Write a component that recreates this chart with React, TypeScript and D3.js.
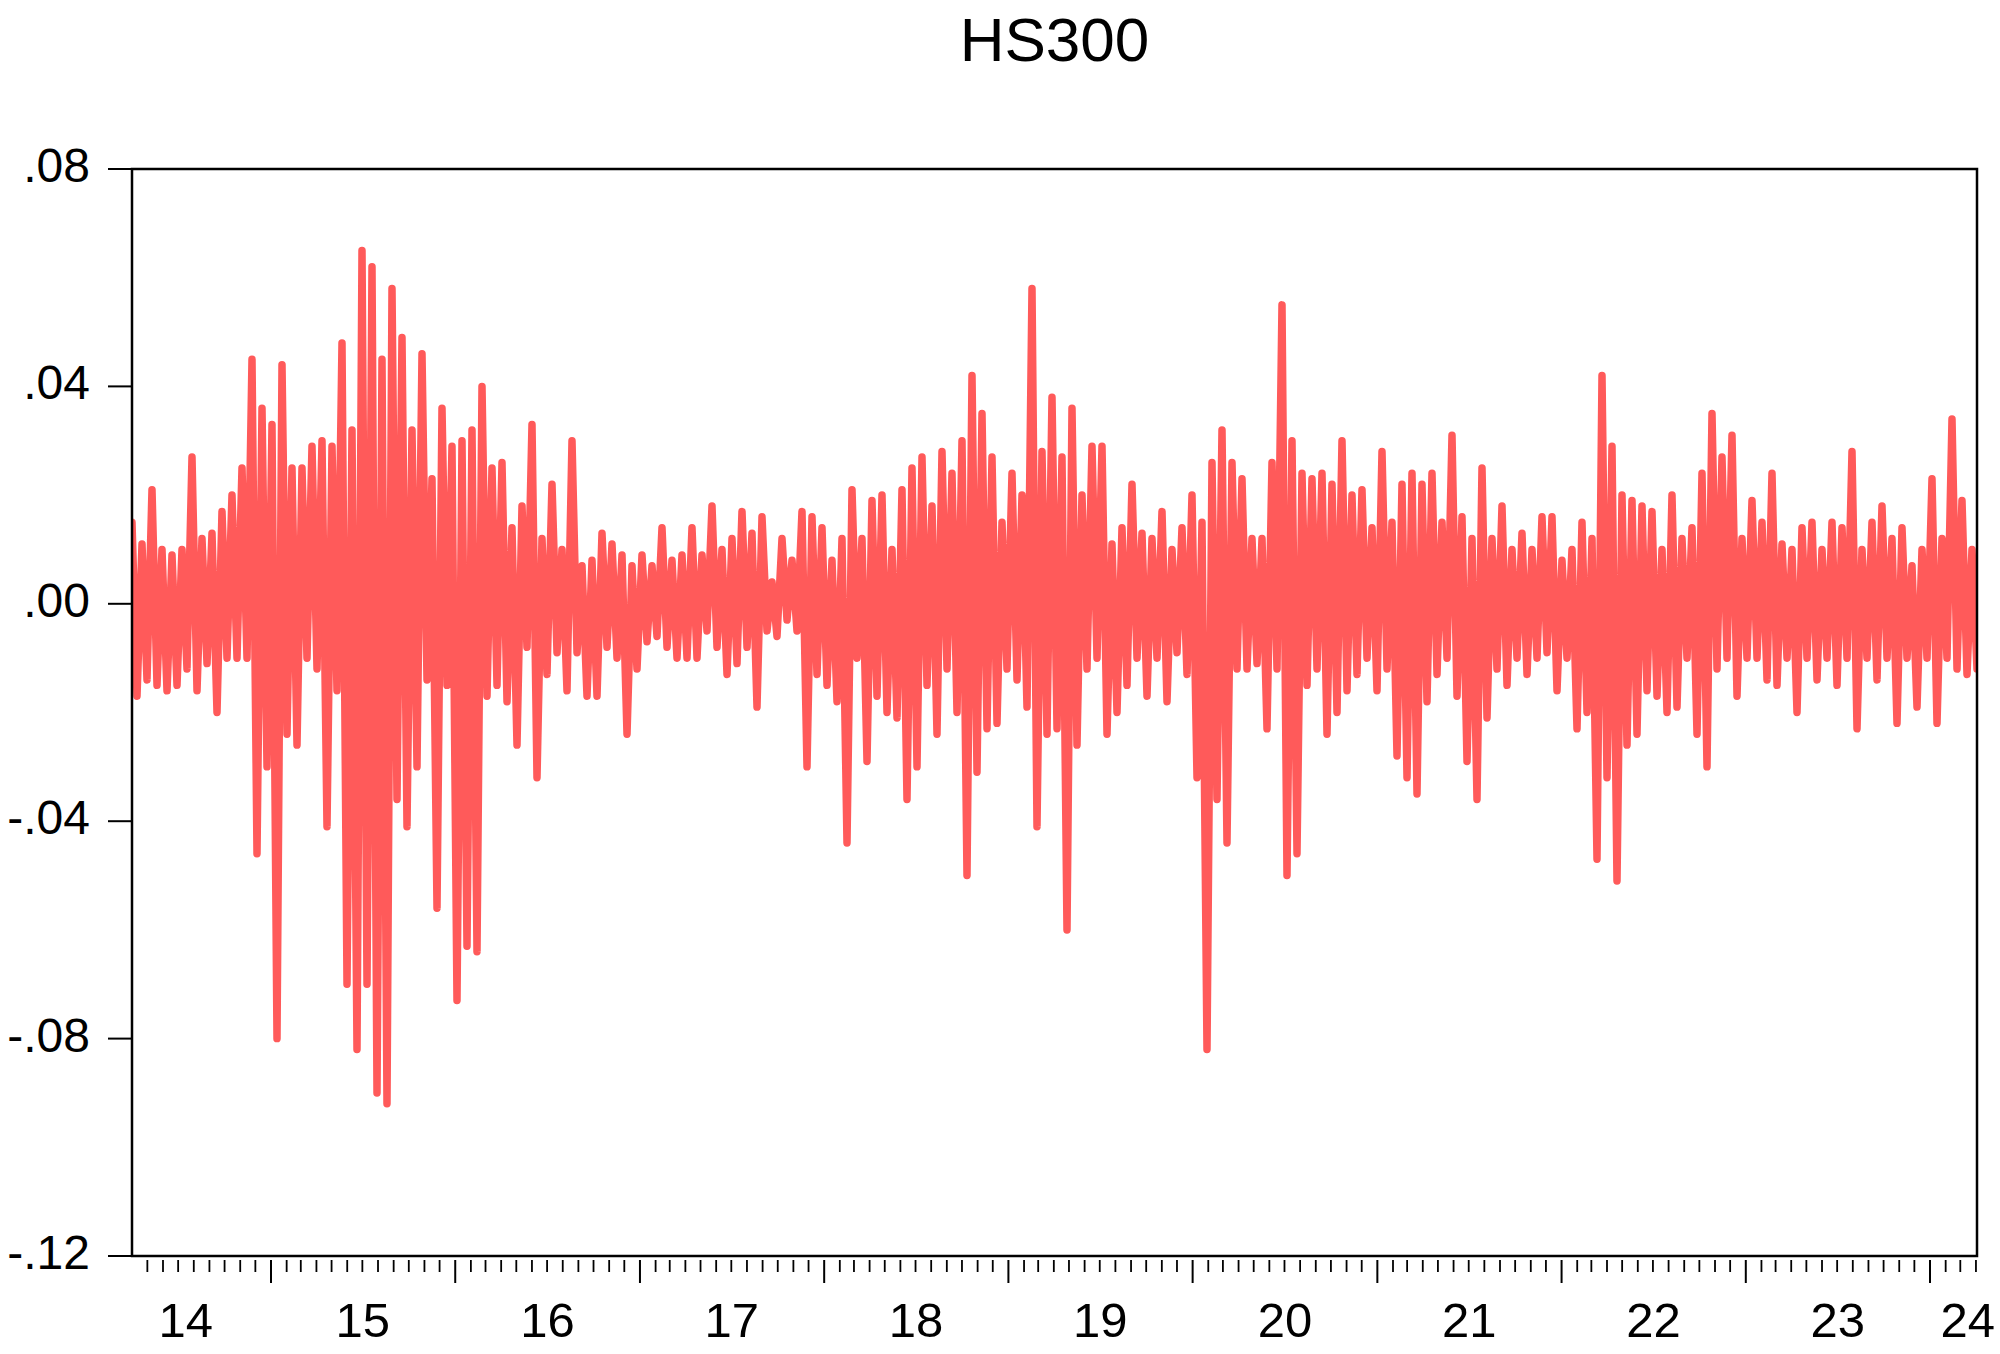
import React from 'react';
import * as d3 from 'd3';

// ---------------- data ----------------
const TITLE = 'HS300';

// y axis ticks
const Y_TICKS = [0.08, 0.04, 0.0, -0.04, -0.08, -0.12];
const Y_TICK_LABELS = ['.08', '.04', '.00', '-.04', '-.08', '-.12'];

// x axis: observation window and year labels
const START_DATE = '2014-03-31T14:00';
const END_DATE = '2024-04-03T02:00';
const YEAR_LABELS = ['14', '15', '16', '17', '18', '19', '20', '21', '22', '23', '24'];
const YEAR_LABEL_DATES = [
  '2014-07-16', '2015-07-02', '2016-07-02', '2017-07-02', '2018-07-02',
  '2019-07-02', '2020-07-02', '2021-07-02', '2022-07-02', '2023-07-02', '2024-03-16',
];

// daily log returns of HS300, sampled along the picture, in per-mille (x 0.001)
const RET_2014_2016 = [
  15, -17, 11, -14, 21, -15, 10, -16, 9, -15,
  10, -12, 27, -16, 12, -11, 13, -20, 17, -10,
  20, -10, 25, -10, 45, -46, 36, -30, 33, -80,
  44, -24, 25, -26, 25, -10, 29, -12, 30, -41,
  29, -16, 48, -70, 32, -82, 65, -70, 62, -90,
  45, -92, 58, -36, 49, -41, 32, -30, 46, -14,
  23, -56, 36, -15, 29, -73, 30, -63, 32, -64,
  40, -17, 25, -15, 26,
];
const RET_2016_2018 = [
  -18, 14, -26, 18, -8, 33, -32, 12, -13, 22,
  -9, 10, -16, 30, -9, 7, -17, 8, -17, 13,
  -8, 11, -10, 9, -24, 7, -12, 9, -7, 7,
  -6, 14, -8, 8, -10, 9, -10, 14, -10, 9,
  -5, 18, -8, 10, -13, 12, -11, 17, -8, 13,
  -19, 16, -5, 4, -6, 12, -3, 8, -5, 17,
  -30, 16, -13, 14, -15, 8, -18, 12, -44, 21,
  -10, 12, -29, 19,
];
const RET_2018_2020 = [
  -17, 20, -20, 10, -21, 21, -36, 25, -30, 27,
  -15, 18, -24, 28, -12, 24, -20, 30, -50, 42,
  -31, 35, -23, 27, -22, 15, -12, 24, -14, 20,
  -19, 58, -41, 28, -24, 38, -23, 27, -60, 36,
  -26, 20, -12, 29, -10, 29, -24, 11, -20, 14,
  -15, 22, -10, 13, -17, 12, -10, 17, -18, 10,
  -9, 14, -13, 20, -32, 15, -82, 26, -36, 32,
  -44, 26, -12, 23,
];
const RET_2020_2022 = [
  -12, 12, -11, 12, -23, 26, -12, 55, -50, 30,
  -46, 24, -15, 23, -12, 24, -24, 22, -20, 30,
  -16, 20, -13, 21, -10, 14, -16, 28, -12, 15,
  -28, 22, -32, 24, -35, 22, -18, 24, -13, 15,
  -10, 31, -17, 16, -29, 12, -36, 25, -21, 12,
  -12, 18, -15, 10, -10, 13, -13, 10, -10, 16,
  -9, 16, -16, 8, -10, 10, -23, 15, -20, 12,
  -47, 42, -32, 29,
];
const RET_2022_2024 = [
  -51, 20, -26, 19, -24, 18, -16, 17, -17, 10,
  -20, 20, -19, 12, -10, 14, -24, 24, -30, 35,
  -12, 27, -10, 31, -17, 12, -10, 19, -10, 15,
  -14, 24, -15, 11, -10, 10, -20, 14, -10, 15,
  -14, 10, -10, 15, -15, 14, -10, 28, -23, 10,
  -10, 15, -14, 18, -10, 12, -22, 14, -10, 7,
  -19, 10, -10, 23, -22, 12, -10, 34, -12, 19,
  -13, 10, -12,
];

// ---------------- chart ----------------
const W = 2000;
const H = 1354;
const M = { left: 132, right: 1977, top: 169, bottom: 1256 };
const FONT = '"Liberation Sans", Arial, Helvetica, sans-serif';
const LINE_COLOR = '#ff5a5a';

export default function App() {
  const series = [
    ...RET_2014_2016,
    ...RET_2016_2018,
    ...RET_2018_2020,
    ...RET_2020_2022,
    ...RET_2022_2024,
  ].map((v) => v / 1000);

  const t0 = new Date(START_DATE);
  const t1 = new Date(END_DATE);
  const parse = d3.timeParse('%Y-%m-%d');

  const xIdx = d3.scaleLinear().domain([0, series.length - 1]).range([M.left, M.right]);
  const xTime = d3.scaleTime().domain([t0, t1]).range([M.left, M.right]);
  const y = d3.scaleLinear().domain([-0.12, 0.08]).range([M.bottom, M.top]);

  const path =
    d3
      .line<number>()
      .x((_, i) => xIdx(i))
      .y((d) => y(d))(series) || '';

  const years = d3.timeYear.range(d3.timeYear.ceil(t0), t1);
  const months = d3.timeMonth
    .range(d3.timeMonth.ceil(t0), t1)
    .filter((d) => d.getMonth() !== 0)
    .filter((d) => xTime(d) > M.left + 4);

  return (
    <svg
      width={W}
      height={H}
      style={{ position: 'absolute', left: 0, top: 0, display: 'block' }}
      fontFamily={FONT}
    >
      <rect x={0} y={0} width={W} height={H} fill="#ffffff" />
      <text x={(M.left + M.right) / 2} y={61} textAnchor="middle" fontSize={62} fill="#000">
        {TITLE}
      </text>

      <defs>
        <clipPath id="plotClip">
          <rect x={M.left} y={M.top} width={M.right - M.left} height={M.bottom - M.top} />
        </clipPath>
      </defs>

      <path
        d={path}
        fill="none"
        stroke={LINE_COLOR}
        strokeWidth={7.5}
        strokeLinejoin="round"
        strokeLinecap="round"
        clipPath="url(#plotClip)"
      />

      <rect
        x={M.left}
        y={M.top}
        width={M.right - M.left}
        height={M.bottom - M.top}
        fill="none"
        stroke="#000"
        strokeWidth={2.5}
      />

      {Y_TICKS.map((v, i) => (
        <g key={'y' + i}>
          <line x1={108} x2={M.left} y1={y(v)} y2={y(v)} stroke="#000" strokeWidth={2} />
          <text x={90} y={y(v) + 13} textAnchor="end" fontSize={48} fill="#000">
            {Y_TICK_LABELS[i]}
          </text>
        </g>
      ))}

      {months.map((d, i) => (
        <line
          key={'m' + i}
          x1={xTime(d)}
          x2={xTime(d)}
          y1={M.bottom + 4}
          y2={M.bottom + 16}
          stroke="#000"
          strokeWidth={1.8}
        />
      ))}
      {years.map((d, i) => (
        <line
          key={'yr' + i}
          x1={xTime(d)}
          x2={xTime(d)}
          y1={M.bottom + 4}
          y2={M.bottom + 27}
          stroke="#000"
          strokeWidth={2}
        />
      ))}
      {YEAR_LABELS.map((lab, i) => (
        <text
          key={'xl' + i}
          x={xTime(parse(YEAR_LABEL_DATES[i]) as Date)}
          y={1337}
          textAnchor="middle"
          fontSize={49}
          fill="#000"
        >
          {lab}
        </text>
      ))}
    </svg>
  );
}
